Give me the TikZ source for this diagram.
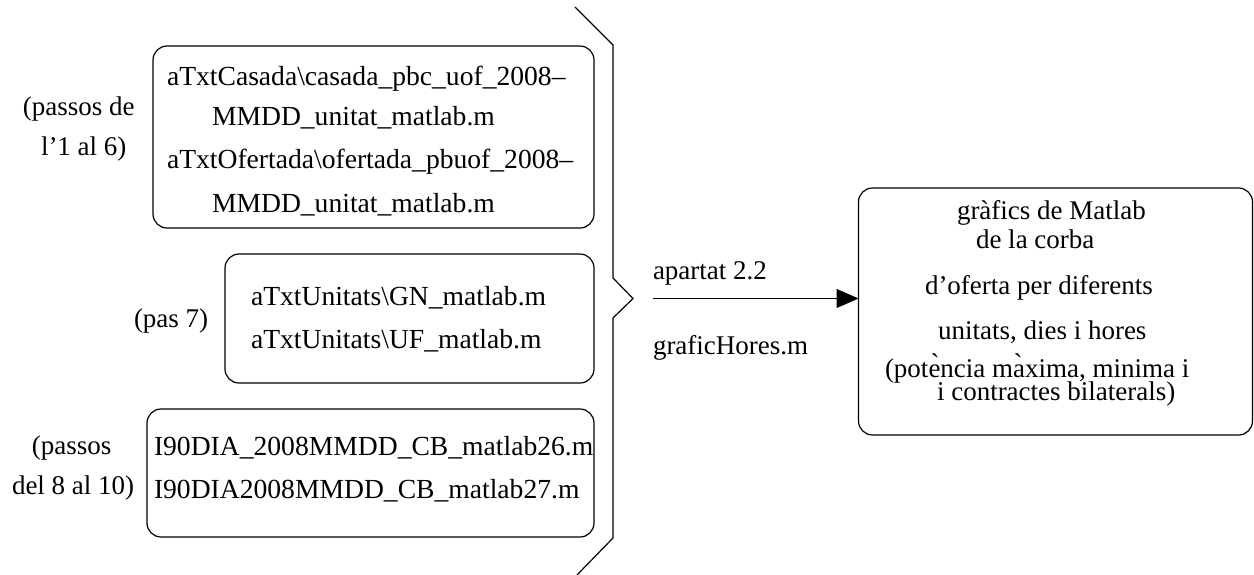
\documentclass[tikz,border=0pt]{standalone}
\usepackage{fontspec}
\setmainfont{Liberation Serif}
\usetikzlibrary{arrows.meta}
\begin{document}
\begin{tikzpicture}[x=0.5pt,y=-0.5pt,
  every node/.style={inner sep=0pt, outer sep=0pt, font=\fontsize{13.5}{16}\selectfont},
  txt/.style={anchor=base west},
  fname/.style={anchor=base west, font=\fontsize{13.8}{16}\selectfont},
  filebox/.style={draw, line width=0.6pt, rounded corners=7pt, anchor=center},
  line/.style={line width=0.6pt}]
\useasboundingbox (0,0) rectangle (1254,574);

% boxes holding the Matlab input files
\node[filebox, minimum width=220.5pt, minimum height=91pt] (box1) at (373.5,137) {};
\node[filebox, minimum width=184.5pt, minimum height=64.5pt] (box2) at (409.5,318.5) {};
\node[filebox, minimum width=223.5pt, minimum height=64pt] (box3) at (370.5,473) {};
\node[filebox, minimum width=197pt, minimum height=123.5pt] (out) at (1055.5,311.5) {};

% file names
\node[fname] (f1a) at (167,85) {aTxtCasada\textbackslash casada\_pbc\_uof\_2008–};
\node[fname] (f1b) at (212,125) {MMDD\_unitat\_matlab.m};
\node[fname] (f1c) at (167,168) {aTxtOfertada\textbackslash ofertada\_pbuof\_2008–};
\node[fname] (f1d) at (212,212) {MMDD\_unitat\_matlab.m};
\node[fname] (f2a) at (251,305) {aTxtUnitats\textbackslash GN\_matlab.m};
\node[fname] (f2b) at (251,348) {aTxtUnitats\textbackslash UF\_matlab.m};
\node[fname] (f3a) at (154,455) {I90DIA\_2008MMDD\_CB\_matlab26.m};
\node[fname] (f3b) at (154,498) {I90DIA2008MMDD\_CB\_matlab27.m};

% step labels
\node[txt] (s1a) at (23,115) {(passos de};
\node[txt] (s1b) at (41,155) {l’1 al 6)};
\node[txt] (s2) at (134,327) {(pas 7)};
\node[txt] (s3a) at (32,454) {(passos};
\node[txt] (s3b) at (12,494) {del 8 al 10)};

% brace gathering the three groups
\coordinate (bt) at (633,298.5);
\draw[line] (575,7) -- (613,45) -- (613,278) -- (bt) -- (613,318) -- (613,538) -- (577,575);

% arrow to the output box
\coordinate (astart) at (653,298.5);
\draw[line, -{Triangle[length=11pt,width=9.5pt]}] (astart) -- (astart -| out.west);
\node[txt] (lab1) at (653,279) {apartat 2.2};
\node[txt] (lab2) at (653,354) {graficHores.m};

% output description
\node[txt] (o1) at (957,219) {gràfics de Matlab};
\node[txt] (o2) at (976,248) {de la corba};
\node[txt] (o3) at (925,294) {d’oferta per diferents};
\node[txt] (o4) at (938,339) {unitats, dies i hores};
\node[txt] (o5) at (885,377) {(potencia maxima, minima i};
\node[txt] (o6) at (937,400) {i contractes bilaterals)};
\node[txt] (acc1) at (930.5,372) {\textasciigrave};
\node[txt] (acc2) at (1013.5,372) {\textasciigrave};
\end{tikzpicture}
\end{document}
